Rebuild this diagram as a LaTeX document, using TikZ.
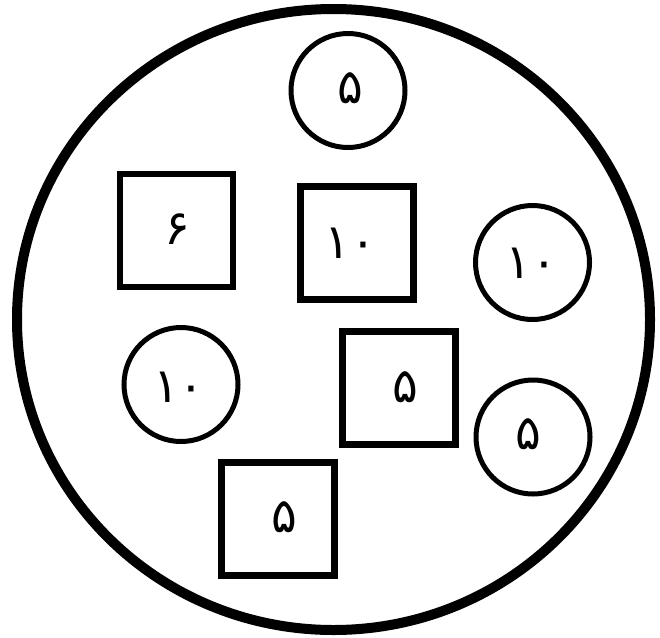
\documentclass[tikz,border=0pt]{standalone}
\usepackage{fontspec}
\usetikzlibrary{shapes.geometric}
\newfontfamily\fa[Script=Arabic]{DejaVu Sans}
\begin{document}
\begin{tikzpicture}[x=1pt,y=-1pt,
  sq/.style={draw,line width=6.8pt,rectangle,minimum width=113pt,minimum height=113pt,inner sep=0pt},
  cir/.style={draw,line width=5pt,circle,minimum size=114pt,inner sep=0pt},
  num/.style={font=\fa\fontsize{48}{48}\selectfont,inner sep=0pt}]
\useasboundingbox (0,0) rectangle (660,637);
\node[draw,line width=10pt,ellipse,minimum width=633pt,minimum height=621pt,inner sep=0pt] (outer) at (333.5,319.5) {};
\node[cir] (c1) at (348,90.5) {};
\node[cir] (c2) at (532.5,262.5) {};
\node[cir] (c3) at (181,384.5) {};
\node[cir] (c4) at (533,437) {};
\node[sq] (s1) at (176.5,230.5) {};
\node[sq] (s2) at (357,243) {};
\node[sq] (s3) at (399,388) {};
\node[sq] (s4) at (278,519) {};
\node[num] (t1) at (350,88) {۵};
\node[num] (t2) at (531,263) {۱۰};
\node[num] (t3) at (179,387) {۱۰};
\node[num] (t4) at (528,434) {۵};
\node[num] (t5) at (177,229) {۶};
\node[num] (t6) at (350,243) {۱۰};
\node[num] (t7) at (405,387) {۵};
\node[num] (t8) at (284,517) {۵};
\end{tikzpicture}
\end{document}
